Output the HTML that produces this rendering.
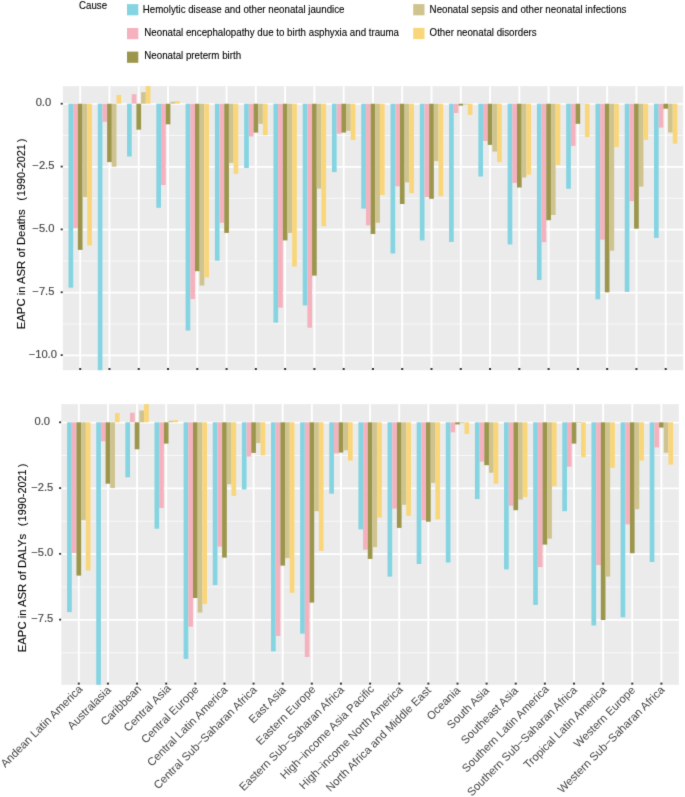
<!DOCTYPE html>
<html><head><meta charset="utf-8"><style>
html,body{margin:0;padding:0;background:#fff;}
svg{display:block;will-change:transform;}

text{font-family:"Liberation Sans",sans-serif;}
.tk{font-size:11.2px;fill:#444;stroke:#444;stroke-width:0.15px;}
.tt{font-size:11.3px;fill:#000;stroke:#000;stroke-width:0.1px;}
.xl{font-size:11.3px;fill:#444;}
.lt{font-size:9.7px;fill:#000;stroke:#000;stroke-width:0.1px;}
.lg{font-size:9.75px;fill:#000;stroke:#000;stroke-width:0.1px;}
</style></head><body>
<svg width="685" height="797" viewBox="0 0 685 797">
<defs><filter id="bl" x="0" y="0" width="685" height="797" filterUnits="userSpaceOnUse" color-interpolation-filters="sRGB"><feConvolveMatrix order="3" kernelMatrix="0.0113 0.0838 0.0113 0.0838 0.619 0.0838 0.0113 0.0838 0.0113" edgeMode="duplicate"/></filter></defs>
<rect width="685" height="797" fill="#fff"/>
<g filter="url(#bl)">
<rect x="62.9" y="86.1" width="620.2" height="284.1" fill="#EBEBEB"/>
<line x1="62.9" x2="683.1" y1="135.43" y2="135.43" stroke="#fff" stroke-width="0.7"/>
<line x1="62.9" x2="683.1" y1="198.28" y2="198.28" stroke="#fff" stroke-width="0.7"/>
<line x1="62.9" x2="683.1" y1="261.12" y2="261.12" stroke="#fff" stroke-width="0.7"/>
<line x1="62.9" x2="683.1" y1="323.98" y2="323.98" stroke="#fff" stroke-width="0.7"/>
<line x1="62.9" x2="683.1" y1="104" y2="104" stroke="#fff" stroke-width="1.7"/>
<line x1="62.9" x2="683.1" y1="166.85" y2="166.85" stroke="#fff" stroke-width="1.7"/>
<line x1="62.9" x2="683.1" y1="229.7" y2="229.7" stroke="#fff" stroke-width="1.7"/>
<line x1="62.9" x2="683.1" y1="292.55" y2="292.55" stroke="#fff" stroke-width="1.7"/>
<line x1="62.9" x2="683.1" y1="355.4" y2="355.4" stroke="#fff" stroke-width="1.7"/>
<line x1="80.2" x2="80.2" y1="86.1" y2="370.2" stroke="#fff" stroke-width="1.9"/>
<line x1="109.47" x2="109.47" y1="86.1" y2="370.2" stroke="#fff" stroke-width="1.9"/>
<line x1="138.75" x2="138.75" y1="86.1" y2="370.2" stroke="#fff" stroke-width="1.9"/>
<line x1="168.02" x2="168.02" y1="86.1" y2="370.2" stroke="#fff" stroke-width="1.9"/>
<line x1="197.3" x2="197.3" y1="86.1" y2="370.2" stroke="#fff" stroke-width="1.9"/>
<line x1="226.57" x2="226.57" y1="86.1" y2="370.2" stroke="#fff" stroke-width="1.9"/>
<line x1="255.85" x2="255.85" y1="86.1" y2="370.2" stroke="#fff" stroke-width="1.9"/>
<line x1="285.12" x2="285.12" y1="86.1" y2="370.2" stroke="#fff" stroke-width="1.9"/>
<line x1="314.4" x2="314.4" y1="86.1" y2="370.2" stroke="#fff" stroke-width="1.9"/>
<line x1="343.67" x2="343.67" y1="86.1" y2="370.2" stroke="#fff" stroke-width="1.9"/>
<line x1="372.95" x2="372.95" y1="86.1" y2="370.2" stroke="#fff" stroke-width="1.9"/>
<line x1="402.22" x2="402.22" y1="86.1" y2="370.2" stroke="#fff" stroke-width="1.9"/>
<line x1="431.5" x2="431.5" y1="86.1" y2="370.2" stroke="#fff" stroke-width="1.9"/>
<line x1="460.77" x2="460.77" y1="86.1" y2="370.2" stroke="#fff" stroke-width="1.9"/>
<line x1="490.05" x2="490.05" y1="86.1" y2="370.2" stroke="#fff" stroke-width="1.9"/>
<line x1="519.33" x2="519.33" y1="86.1" y2="370.2" stroke="#fff" stroke-width="1.9"/>
<line x1="548.6" x2="548.6" y1="86.1" y2="370.2" stroke="#fff" stroke-width="1.9"/>
<line x1="577.88" x2="577.88" y1="86.1" y2="370.2" stroke="#fff" stroke-width="1.9"/>
<line x1="607.15" x2="607.15" y1="86.1" y2="370.2" stroke="#fff" stroke-width="1.9"/>
<line x1="636.43" x2="636.43" y1="86.1" y2="370.2" stroke="#fff" stroke-width="1.9"/>
<line x1="665.7" x2="665.7" y1="86.1" y2="370.2" stroke="#fff" stroke-width="1.9"/>
<rect x="68.5" y="103.7" width="4.68" height="184" fill="#85D4E2"/>
<rect x="73.18" y="103.7" width="4.68" height="124.4" fill="#F5B2BE"/>
<rect x="77.86" y="103.7" width="4.68" height="146.2" fill="#9C964C"/>
<rect x="82.54" y="103.7" width="4.68" height="93.4" fill="#CFC48F"/>
<rect x="87.22" y="103.7" width="4.68" height="141.7" fill="#F9D67A"/>
<rect x="97.77" y="103.7" width="4.68" height="266.5" fill="#85D4E2"/>
<rect x="102.45" y="103.7" width="4.68" height="18.1" fill="#F5B2BE"/>
<rect x="107.13" y="103.7" width="4.68" height="58.4" fill="#9C964C"/>
<rect x="111.81" y="103.7" width="4.68" height="63" fill="#CFC48F"/>
<rect x="116.49" y="94.9" width="4.68" height="8.8" fill="#F9D67A"/>
<rect x="127.05" y="103.7" width="4.68" height="52.8" fill="#85D4E2"/>
<rect x="131.73" y="94.2" width="4.68" height="9.5" fill="#F5B2BE"/>
<rect x="136.41" y="103.7" width="4.68" height="26" fill="#9C964C"/>
<rect x="141.09" y="92.2" width="4.68" height="11.5" fill="#CFC48F"/>
<rect x="145.77" y="86.1" width="4.68" height="17.6" fill="#F9D67A"/>
<rect x="156.32" y="103.7" width="4.68" height="104.1" fill="#85D4E2"/>
<rect x="161" y="103.7" width="4.68" height="81.3" fill="#F5B2BE"/>
<rect x="165.69" y="103.7" width="4.68" height="20.6" fill="#9C964C"/>
<rect x="170.36" y="101.7" width="4.68" height="2" fill="#CFC48F"/>
<rect x="175.04" y="101.1" width="4.68" height="2.6" fill="#F9D67A"/>
<rect x="185.6" y="103.7" width="4.68" height="226.9" fill="#85D4E2"/>
<rect x="190.28" y="103.7" width="4.68" height="195.3" fill="#F5B2BE"/>
<rect x="194.96" y="103.7" width="4.68" height="167.5" fill="#9C964C"/>
<rect x="199.64" y="103.7" width="4.68" height="181.9" fill="#CFC48F"/>
<rect x="204.32" y="103.7" width="4.68" height="173.7" fill="#F9D67A"/>
<rect x="214.88" y="103.7" width="4.68" height="157" fill="#85D4E2"/>
<rect x="219.56" y="103.7" width="4.68" height="119" fill="#F5B2BE"/>
<rect x="224.24" y="103.7" width="4.68" height="129.2" fill="#9C964C"/>
<rect x="228.91" y="103.7" width="4.68" height="59.2" fill="#CFC48F"/>
<rect x="233.59" y="103.7" width="4.68" height="70.2" fill="#F9D67A"/>
<rect x="244.15" y="103.7" width="4.68" height="64.3" fill="#85D4E2"/>
<rect x="248.83" y="103.7" width="4.68" height="32.7" fill="#F5B2BE"/>
<rect x="253.51" y="103.7" width="4.68" height="28.9" fill="#9C964C"/>
<rect x="258.19" y="103.7" width="4.68" height="20.1" fill="#CFC48F"/>
<rect x="262.87" y="103.7" width="4.68" height="31.4" fill="#F9D67A"/>
<rect x="273.43" y="103.7" width="4.68" height="218.9" fill="#85D4E2"/>
<rect x="278.11" y="103.7" width="4.68" height="204" fill="#F5B2BE"/>
<rect x="282.79" y="103.7" width="4.68" height="136.7" fill="#9C964C"/>
<rect x="287.47" y="103.7" width="4.68" height="129.2" fill="#CFC48F"/>
<rect x="292.14" y="103.7" width="4.68" height="162.9" fill="#F9D67A"/>
<rect x="302.7" y="103.7" width="4.68" height="201.7" fill="#85D4E2"/>
<rect x="307.38" y="103.7" width="4.68" height="224" fill="#F5B2BE"/>
<rect x="312.06" y="103.7" width="4.68" height="171.9" fill="#9C964C"/>
<rect x="316.74" y="103.7" width="4.68" height="84.9" fill="#CFC48F"/>
<rect x="321.42" y="103.7" width="4.68" height="122.6" fill="#F9D67A"/>
<rect x="331.97" y="103.7" width="4.68" height="68.4" fill="#85D4E2"/>
<rect x="336.65" y="103.7" width="4.68" height="29.9" fill="#F5B2BE"/>
<rect x="341.33" y="103.7" width="4.68" height="28.9" fill="#9C964C"/>
<rect x="346.01" y="103.7" width="4.68" height="27.1" fill="#CFC48F"/>
<rect x="350.69" y="103.7" width="4.68" height="36.3" fill="#F9D67A"/>
<rect x="361.25" y="103.7" width="4.68" height="104.9" fill="#85D4E2"/>
<rect x="365.93" y="103.7" width="4.68" height="121.6" fill="#F5B2BE"/>
<rect x="370.61" y="103.7" width="4.68" height="130.3" fill="#9C964C"/>
<rect x="375.29" y="103.7" width="4.68" height="119" fill="#CFC48F"/>
<rect x="379.97" y="103.7" width="4.68" height="91.3" fill="#F9D67A"/>
<rect x="390.52" y="103.7" width="4.68" height="149.8" fill="#85D4E2"/>
<rect x="395.2" y="103.7" width="4.68" height="82.6" fill="#F5B2BE"/>
<rect x="399.88" y="103.7" width="4.68" height="100.3" fill="#9C964C"/>
<rect x="404.56" y="103.7" width="4.68" height="78.7" fill="#CFC48F"/>
<rect x="409.25" y="103.7" width="4.68" height="89.5" fill="#F9D67A"/>
<rect x="419.8" y="103.7" width="4.68" height="136.7" fill="#85D4E2"/>
<rect x="424.48" y="103.7" width="4.68" height="93.3" fill="#F5B2BE"/>
<rect x="429.16" y="103.7" width="4.68" height="95.1" fill="#9C964C"/>
<rect x="433.84" y="103.7" width="4.68" height="57.4" fill="#CFC48F"/>
<rect x="438.52" y="103.7" width="4.68" height="92.6" fill="#F9D67A"/>
<rect x="449.07" y="103.7" width="4.68" height="138.2" fill="#85D4E2"/>
<rect x="453.75" y="103.7" width="4.68" height="9.3" fill="#F5B2BE"/>
<rect x="458.44" y="103.7" width="4.68" height="1.9" fill="#9C964C"/>
<rect x="463.12" y="103.7" width="4.68" height="0.9" fill="#CFC48F"/>
<rect x="467.79" y="103.7" width="4.68" height="11.1" fill="#F9D67A"/>
<rect x="478.35" y="103.7" width="4.68" height="72.8" fill="#85D4E2"/>
<rect x="483.03" y="103.7" width="4.68" height="37.3" fill="#F5B2BE"/>
<rect x="487.71" y="103.7" width="4.68" height="41.2" fill="#9C964C"/>
<rect x="492.39" y="103.7" width="4.68" height="47.9" fill="#CFC48F"/>
<rect x="497.07" y="103.7" width="4.68" height="58.4" fill="#F9D67A"/>
<rect x="507.63" y="103.7" width="4.68" height="140.8" fill="#85D4E2"/>
<rect x="512.31" y="103.7" width="4.68" height="79.2" fill="#F5B2BE"/>
<rect x="516.99" y="103.7" width="4.68" height="83.8" fill="#9C964C"/>
<rect x="521.67" y="103.7" width="4.68" height="73.8" fill="#CFC48F"/>
<rect x="526.35" y="103.7" width="4.68" height="71" fill="#F9D67A"/>
<rect x="536.9" y="103.7" width="4.68" height="176.3" fill="#85D4E2"/>
<rect x="541.58" y="103.7" width="4.68" height="138.5" fill="#F5B2BE"/>
<rect x="546.26" y="103.7" width="4.68" height="116.5" fill="#9C964C"/>
<rect x="550.94" y="103.7" width="4.68" height="111.3" fill="#CFC48F"/>
<rect x="555.62" y="103.7" width="4.68" height="61.2" fill="#F9D67A"/>
<rect x="566.17" y="103.7" width="4.68" height="85.1" fill="#85D4E2"/>
<rect x="570.85" y="103.7" width="4.68" height="42.2" fill="#F5B2BE"/>
<rect x="575.53" y="103.7" width="4.68" height="20.1" fill="#9C964C"/>
<rect x="580.21" y="103.7" width="4.68" height="0.6" fill="#CFC48F"/>
<rect x="584.89" y="103.7" width="4.68" height="33.5" fill="#F9D67A"/>
<rect x="595.45" y="103.7" width="4.68" height="195.6" fill="#85D4E2"/>
<rect x="600.13" y="103.7" width="4.68" height="136" fill="#F5B2BE"/>
<rect x="604.81" y="103.7" width="4.68" height="188.6" fill="#9C964C"/>
<rect x="609.49" y="103.7" width="4.68" height="147" fill="#CFC48F"/>
<rect x="614.17" y="103.7" width="4.68" height="43.5" fill="#F9D67A"/>
<rect x="624.73" y="103.7" width="4.68" height="188.2" fill="#85D4E2"/>
<rect x="629.4" y="103.7" width="4.68" height="97.5" fill="#F5B2BE"/>
<rect x="634.09" y="103.7" width="4.68" height="125" fill="#9C964C"/>
<rect x="638.76" y="103.7" width="4.68" height="82.9" fill="#CFC48F"/>
<rect x="643.45" y="103.7" width="4.68" height="36.2" fill="#F9D67A"/>
<rect x="654" y="103.7" width="4.68" height="134.2" fill="#85D4E2"/>
<rect x="658.68" y="103.7" width="4.68" height="23.9" fill="#F5B2BE"/>
<rect x="663.36" y="103.7" width="4.68" height="5" fill="#9C964C"/>
<rect x="668.04" y="103.7" width="4.68" height="28.8" fill="#CFC48F"/>
<rect x="672.72" y="103.7" width="4.68" height="40" fill="#F9D67A"/>
<rect x="60.7" y="102.8" width="2" height="1.8" fill="#333"/>
<text transform="translate(43.4,106.2) scale(1,1.03)" text-anchor="middle" class="tk">0.0</text>
<rect x="60.7" y="165.65" width="2" height="1.8" fill="#333"/>
<text transform="translate(43.4,169.05) scale(1,1.03)" text-anchor="middle" class="tk">−2.5</text>
<rect x="60.7" y="228.5" width="2" height="1.8" fill="#333"/>
<text transform="translate(43.4,231.9) scale(1,1.03)" text-anchor="middle" class="tk">−5.0</text>
<rect x="60.7" y="291.35" width="2" height="1.8" fill="#333"/>
<text transform="translate(43.4,294.75) scale(1,1.03)" text-anchor="middle" class="tk">−7.5</text>
<rect x="60.7" y="354.2" width="2" height="1.8" fill="#333"/>
<text transform="translate(42.8,357.6) scale(1,1.03)" text-anchor="middle" class="tk">−10.0</text>
<rect x="79.2" y="368" width="2" height="2" fill="#333"/>
<rect x="108.47" y="368" width="2" height="2" fill="#333"/>
<rect x="137.75" y="368" width="2" height="2" fill="#333"/>
<rect x="167.02" y="368" width="2" height="2" fill="#333"/>
<rect x="196.3" y="368" width="2" height="2" fill="#333"/>
<rect x="225.57" y="368" width="2" height="2" fill="#333"/>
<rect x="254.85" y="368" width="2" height="2" fill="#333"/>
<rect x="284.12" y="368" width="2" height="2" fill="#333"/>
<rect x="313.4" y="368" width="2" height="2" fill="#333"/>
<rect x="342.67" y="368" width="2" height="2" fill="#333"/>
<rect x="371.95" y="368" width="2" height="2" fill="#333"/>
<rect x="401.22" y="368" width="2" height="2" fill="#333"/>
<rect x="430.5" y="368" width="2" height="2" fill="#333"/>
<rect x="459.77" y="368" width="2" height="2" fill="#333"/>
<rect x="489.05" y="368" width="2" height="2" fill="#333"/>
<rect x="518.33" y="368" width="2" height="2" fill="#333"/>
<rect x="547.6" y="368" width="2" height="2" fill="#333"/>
<rect x="576.88" y="368" width="2" height="2" fill="#333"/>
<rect x="606.15" y="368" width="2" height="2" fill="#333"/>
<rect x="635.43" y="368" width="2" height="2" fill="#333"/>
<rect x="664.7" y="368" width="2" height="2" fill="#333"/>
<rect x="61.3" y="404.1" width="617.6" height="280.7" fill="#EBEBEB"/>
<line x1="61.3" x2="678.9" y1="455.49" y2="455.49" stroke="#fff" stroke-width="0.7"/>
<line x1="61.3" x2="678.9" y1="521.26" y2="521.26" stroke="#fff" stroke-width="0.7"/>
<line x1="61.3" x2="678.9" y1="587.04" y2="587.04" stroke="#fff" stroke-width="0.7"/>
<line x1="61.3" x2="678.9" y1="652.81" y2="652.81" stroke="#fff" stroke-width="0.7"/>
<line x1="61.3" x2="678.9" y1="422.6" y2="422.6" stroke="#fff" stroke-width="1.7"/>
<line x1="61.3" x2="678.9" y1="488.38" y2="488.38" stroke="#fff" stroke-width="1.7"/>
<line x1="61.3" x2="678.9" y1="554.15" y2="554.15" stroke="#fff" stroke-width="1.7"/>
<line x1="61.3" x2="678.9" y1="619.92" y2="619.92" stroke="#fff" stroke-width="1.7"/>
<line x1="78.8" x2="78.8" y1="404.1" y2="684.8" stroke="#fff" stroke-width="1.9"/>
<line x1="107.93" x2="107.93" y1="404.1" y2="684.8" stroke="#fff" stroke-width="1.9"/>
<line x1="137.06" x2="137.06" y1="404.1" y2="684.8" stroke="#fff" stroke-width="1.9"/>
<line x1="166.19" x2="166.19" y1="404.1" y2="684.8" stroke="#fff" stroke-width="1.9"/>
<line x1="195.32" x2="195.32" y1="404.1" y2="684.8" stroke="#fff" stroke-width="1.9"/>
<line x1="224.45" x2="224.45" y1="404.1" y2="684.8" stroke="#fff" stroke-width="1.9"/>
<line x1="253.58" x2="253.58" y1="404.1" y2="684.8" stroke="#fff" stroke-width="1.9"/>
<line x1="282.71" x2="282.71" y1="404.1" y2="684.8" stroke="#fff" stroke-width="1.9"/>
<line x1="311.84" x2="311.84" y1="404.1" y2="684.8" stroke="#fff" stroke-width="1.9"/>
<line x1="340.97" x2="340.97" y1="404.1" y2="684.8" stroke="#fff" stroke-width="1.9"/>
<line x1="370.1" x2="370.1" y1="404.1" y2="684.8" stroke="#fff" stroke-width="1.9"/>
<line x1="399.23" x2="399.23" y1="404.1" y2="684.8" stroke="#fff" stroke-width="1.9"/>
<line x1="428.36" x2="428.36" y1="404.1" y2="684.8" stroke="#fff" stroke-width="1.9"/>
<line x1="457.49" x2="457.49" y1="404.1" y2="684.8" stroke="#fff" stroke-width="1.9"/>
<line x1="486.62" x2="486.62" y1="404.1" y2="684.8" stroke="#fff" stroke-width="1.9"/>
<line x1="515.75" x2="515.75" y1="404.1" y2="684.8" stroke="#fff" stroke-width="1.9"/>
<line x1="544.88" x2="544.88" y1="404.1" y2="684.8" stroke="#fff" stroke-width="1.9"/>
<line x1="574.01" x2="574.01" y1="404.1" y2="684.8" stroke="#fff" stroke-width="1.9"/>
<line x1="603.14" x2="603.14" y1="404.1" y2="684.8" stroke="#fff" stroke-width="1.9"/>
<line x1="632.27" x2="632.27" y1="404.1" y2="684.8" stroke="#fff" stroke-width="1.9"/>
<line x1="661.4" x2="661.4" y1="404.1" y2="684.8" stroke="#fff" stroke-width="1.9"/>
<rect x="67.1" y="422.3" width="4.68" height="189.8" fill="#85D4E2"/>
<rect x="71.78" y="422.3" width="4.68" height="130.7" fill="#F5B2BE"/>
<rect x="76.46" y="422.3" width="4.68" height="153.3" fill="#9C964C"/>
<rect x="81.14" y="422.3" width="4.68" height="97.9" fill="#CFC48F"/>
<rect x="85.82" y="422.3" width="4.68" height="148.2" fill="#F9D67A"/>
<rect x="96.23" y="422.3" width="4.68" height="262.5" fill="#85D4E2"/>
<rect x="100.91" y="422.3" width="4.68" height="19" fill="#F5B2BE"/>
<rect x="105.59" y="422.3" width="4.68" height="61.4" fill="#9C964C"/>
<rect x="110.27" y="422.3" width="4.68" height="65.8" fill="#CFC48F"/>
<rect x="114.95" y="413" width="4.68" height="9.3" fill="#F9D67A"/>
<rect x="125.36" y="422.3" width="4.68" height="55" fill="#85D4E2"/>
<rect x="130.04" y="412.8" width="4.68" height="9.5" fill="#F5B2BE"/>
<rect x="134.72" y="422.3" width="4.68" height="27" fill="#9C964C"/>
<rect x="139.4" y="410.5" width="4.68" height="11.8" fill="#CFC48F"/>
<rect x="144.08" y="404.1" width="4.68" height="18.2" fill="#F9D67A"/>
<rect x="154.49" y="422.3" width="4.68" height="106.4" fill="#85D4E2"/>
<rect x="159.17" y="422.3" width="4.68" height="85.7" fill="#F5B2BE"/>
<rect x="163.85" y="422.3" width="4.68" height="21.3" fill="#9C964C"/>
<rect x="168.53" y="420.8" width="4.68" height="1.5" fill="#CFC48F"/>
<rect x="173.21" y="420" width="4.68" height="2.3" fill="#F9D67A"/>
<rect x="183.62" y="422.3" width="4.68" height="236.6" fill="#85D4E2"/>
<rect x="188.3" y="422.3" width="4.68" height="204.4" fill="#F5B2BE"/>
<rect x="192.98" y="422.3" width="4.68" height="175.7" fill="#9C964C"/>
<rect x="197.66" y="422.3" width="4.68" height="190.3" fill="#CFC48F"/>
<rect x="202.34" y="422.3" width="4.68" height="181.8" fill="#F9D67A"/>
<rect x="212.75" y="422.3" width="4.68" height="162.8" fill="#85D4E2"/>
<rect x="217.43" y="422.3" width="4.68" height="124.3" fill="#F5B2BE"/>
<rect x="222.11" y="422.3" width="4.68" height="135.3" fill="#9C964C"/>
<rect x="226.79" y="422.3" width="4.68" height="61.9" fill="#CFC48F"/>
<rect x="231.47" y="422.3" width="4.68" height="73.7" fill="#F9D67A"/>
<rect x="241.88" y="422.3" width="4.68" height="67.1" fill="#85D4E2"/>
<rect x="246.56" y="422.3" width="4.68" height="34.2" fill="#F5B2BE"/>
<rect x="251.24" y="422.3" width="4.68" height="30.6" fill="#9C964C"/>
<rect x="255.92" y="422.3" width="4.68" height="20.8" fill="#CFC48F"/>
<rect x="260.6" y="422.3" width="4.68" height="33.1" fill="#F9D67A"/>
<rect x="271.01" y="422.3" width="4.68" height="229.1" fill="#85D4E2"/>
<rect x="275.69" y="422.3" width="4.68" height="213.7" fill="#F5B2BE"/>
<rect x="280.37" y="422.3" width="4.68" height="143.3" fill="#9C964C"/>
<rect x="285.05" y="422.3" width="4.68" height="135.8" fill="#CFC48F"/>
<rect x="289.73" y="422.3" width="4.68" height="170.5" fill="#F9D67A"/>
<rect x="300.14" y="422.3" width="4.68" height="211.4" fill="#85D4E2"/>
<rect x="304.82" y="422.3" width="4.68" height="234.7" fill="#F5B2BE"/>
<rect x="309.5" y="422.3" width="4.68" height="180.3" fill="#9C964C"/>
<rect x="314.18" y="422.3" width="4.68" height="88.9" fill="#CFC48F"/>
<rect x="318.86" y="422.3" width="4.68" height="128.6" fill="#F9D67A"/>
<rect x="329.27" y="422.3" width="4.68" height="71.4" fill="#85D4E2"/>
<rect x="333.95" y="422.3" width="4.68" height="31.1" fill="#F5B2BE"/>
<rect x="338.63" y="422.3" width="4.68" height="30.3" fill="#9C964C"/>
<rect x="343.31" y="422.3" width="4.68" height="28" fill="#CFC48F"/>
<rect x="347.99" y="422.3" width="4.68" height="38.3" fill="#F9D67A"/>
<rect x="358.4" y="422.3" width="4.68" height="107.1" fill="#85D4E2"/>
<rect x="363.08" y="422.3" width="4.68" height="127.4" fill="#F5B2BE"/>
<rect x="367.76" y="422.3" width="4.68" height="136.6" fill="#9C964C"/>
<rect x="372.44" y="422.3" width="4.68" height="124.8" fill="#CFC48F"/>
<rect x="377.12" y="422.3" width="4.68" height="95.3" fill="#F9D67A"/>
<rect x="387.53" y="422.3" width="4.68" height="154.3" fill="#85D4E2"/>
<rect x="392.21" y="422.3" width="4.68" height="86.3" fill="#F5B2BE"/>
<rect x="396.89" y="422.3" width="4.68" height="105.6" fill="#9C964C"/>
<rect x="401.57" y="422.3" width="4.68" height="82.5" fill="#CFC48F"/>
<rect x="406.25" y="422.3" width="4.68" height="93.5" fill="#F9D67A"/>
<rect x="416.66" y="422.3" width="4.68" height="141.7" fill="#85D4E2"/>
<rect x="421.34" y="422.3" width="4.68" height="97.9" fill="#F5B2BE"/>
<rect x="426.02" y="422.3" width="4.68" height="99.4" fill="#9C964C"/>
<rect x="430.7" y="422.3" width="4.68" height="60.6" fill="#CFC48F"/>
<rect x="435.38" y="422.3" width="4.68" height="97.1" fill="#F9D67A"/>
<rect x="445.79" y="422.3" width="4.68" height="140.2" fill="#85D4E2"/>
<rect x="450.47" y="422.3" width="4.68" height="10" fill="#F5B2BE"/>
<rect x="455.15" y="422.3" width="4.68" height="2.1" fill="#9C964C"/>
<rect x="459.83" y="422.3" width="4.68" height="1" fill="#CFC48F"/>
<rect x="464.51" y="422.3" width="4.68" height="11.6" fill="#F9D67A"/>
<rect x="474.92" y="422.3" width="4.68" height="76.8" fill="#85D4E2"/>
<rect x="479.6" y="422.3" width="4.68" height="39.3" fill="#F5B2BE"/>
<rect x="484.28" y="422.3" width="4.68" height="42.9" fill="#9C964C"/>
<rect x="488.96" y="422.3" width="4.68" height="50.4" fill="#CFC48F"/>
<rect x="493.64" y="422.3" width="4.68" height="61.4" fill="#F9D67A"/>
<rect x="504.05" y="422.3" width="4.68" height="147.1" fill="#85D4E2"/>
<rect x="508.73" y="422.3" width="4.68" height="83.5" fill="#F5B2BE"/>
<rect x="513.41" y="422.3" width="4.68" height="87.9" fill="#9C964C"/>
<rect x="518.09" y="422.3" width="4.68" height="77.3" fill="#CFC48F"/>
<rect x="522.77" y="422.3" width="4.68" height="74.8" fill="#F9D67A"/>
<rect x="533.18" y="422.3" width="4.68" height="182.6" fill="#85D4E2"/>
<rect x="537.86" y="422.3" width="4.68" height="144.8" fill="#F5B2BE"/>
<rect x="542.54" y="422.3" width="4.68" height="122.3" fill="#9C964C"/>
<rect x="547.22" y="422.3" width="4.68" height="116.4" fill="#CFC48F"/>
<rect x="551.9" y="422.3" width="4.68" height="64" fill="#F9D67A"/>
<rect x="562.31" y="422.3" width="4.68" height="88.9" fill="#85D4E2"/>
<rect x="566.99" y="422.3" width="4.68" height="44.4" fill="#F5B2BE"/>
<rect x="571.67" y="422.3" width="4.68" height="21.3" fill="#9C964C"/>
<rect x="576.35" y="422.3" width="4.68" height="0.7" fill="#CFC48F"/>
<rect x="581.03" y="422.3" width="4.68" height="34.9" fill="#F9D67A"/>
<rect x="591.44" y="422.3" width="4.68" height="203.2" fill="#85D4E2"/>
<rect x="596.12" y="422.3" width="4.68" height="142.8" fill="#F5B2BE"/>
<rect x="600.8" y="422.3" width="4.68" height="197.7" fill="#9C964C"/>
<rect x="605.48" y="422.3" width="4.68" height="154.3" fill="#CFC48F"/>
<rect x="610.16" y="422.3" width="4.68" height="45.6" fill="#F9D67A"/>
<rect x="620.57" y="422.3" width="4.68" height="195" fill="#85D4E2"/>
<rect x="625.25" y="422.3" width="4.68" height="102.1" fill="#F5B2BE"/>
<rect x="629.93" y="422.3" width="4.68" height="130.9" fill="#9C964C"/>
<rect x="634.61" y="422.3" width="4.68" height="86.9" fill="#CFC48F"/>
<rect x="639.29" y="422.3" width="4.68" height="38.3" fill="#F9D67A"/>
<rect x="649.7" y="422.3" width="4.68" height="139.7" fill="#85D4E2"/>
<rect x="654.38" y="422.3" width="4.68" height="25.1" fill="#F5B2BE"/>
<rect x="659.06" y="422.3" width="4.68" height="5.3" fill="#9C964C"/>
<rect x="663.74" y="422.3" width="4.68" height="30.4" fill="#CFC48F"/>
<rect x="668.42" y="422.3" width="4.68" height="42.3" fill="#F9D67A"/>
<rect x="59.1" y="421.4" width="2" height="1.8" fill="#333"/>
<text transform="translate(42.3,424.8) scale(1,1.03)" text-anchor="middle" class="tk">0.0</text>
<rect x="59.1" y="487.18" width="2" height="1.8" fill="#333"/>
<text transform="translate(42.3,490.57) scale(1,1.03)" text-anchor="middle" class="tk">−2.5</text>
<rect x="59.1" y="552.95" width="2" height="1.8" fill="#333"/>
<text transform="translate(42.3,556.35) scale(1,1.03)" text-anchor="middle" class="tk">−5.0</text>
<rect x="59.1" y="618.73" width="2" height="1.8" fill="#333"/>
<text transform="translate(42.3,622.12) scale(1,1.03)" text-anchor="middle" class="tk">−7.5</text>
<rect x="77.8" y="682.6" width="2" height="2" fill="#333"/>
<rect x="106.93" y="682.6" width="2" height="2" fill="#333"/>
<rect x="136.06" y="682.6" width="2" height="2" fill="#333"/>
<rect x="165.19" y="682.6" width="2" height="2" fill="#333"/>
<rect x="194.32" y="682.6" width="2" height="2" fill="#333"/>
<rect x="223.45" y="682.6" width="2" height="2" fill="#333"/>
<rect x="252.58" y="682.6" width="2" height="2" fill="#333"/>
<rect x="281.71" y="682.6" width="2" height="2" fill="#333"/>
<rect x="310.84" y="682.6" width="2" height="2" fill="#333"/>
<rect x="339.97" y="682.6" width="2" height="2" fill="#333"/>
<rect x="369.1" y="682.6" width="2" height="2" fill="#333"/>
<rect x="398.23" y="682.6" width="2" height="2" fill="#333"/>
<rect x="427.36" y="682.6" width="2" height="2" fill="#333"/>
<rect x="456.49" y="682.6" width="2" height="2" fill="#333"/>
<rect x="485.62" y="682.6" width="2" height="2" fill="#333"/>
<rect x="514.75" y="682.6" width="2" height="2" fill="#333"/>
<rect x="543.88" y="682.6" width="2" height="2" fill="#333"/>
<rect x="573.01" y="682.6" width="2" height="2" fill="#333"/>
<rect x="602.14" y="682.6" width="2" height="2" fill="#333"/>
<rect x="631.27" y="682.6" width="2" height="2" fill="#333"/>
<rect x="660.4" y="682.6" width="2" height="2" fill="#333"/>
<text transform="translate(25.2,329.2) rotate(-90)" class="tt">EAPC in ASR of Deaths</text>
<text transform="translate(25.2,200.75) rotate(-90)" class="tt">(</text>
<text transform="translate(25.2,196.15) rotate(-90)" class="tt" style="font-size:10.9px">1990-2021</text>
<text transform="translate(25.2,142.35) rotate(-90)" class="tt">)</text>
<text transform="translate(25.8,652.2) rotate(-90)" class="tt">EAPC in ASR of DALYs</text>
<text transform="translate(25.8,526.2) rotate(-90)" class="tt">(</text>
<text transform="translate(25.8,521.4) rotate(-90)" class="tt" style="font-size:10.9px">1990-2021</text>
<text transform="translate(25.8,467.35) rotate(-90)" class="tt">)</text>
<text transform="translate(77.85,684.45) rotate(-45)" text-anchor="end" class="xl" dy="7.7">Andean Latin America</text>
<text transform="translate(106.13,685.3) rotate(-45)" text-anchor="end" class="xl" dy="7.7">Australasia</text>
<text transform="translate(136.56,684) rotate(-45)" text-anchor="end" class="xl" dy="7.7">Caribbean</text>
<text transform="translate(165.99,683.7) rotate(-45)" text-anchor="end" class="xl" dy="7.7">Central Asia</text>
<text transform="translate(193.92,684.9) rotate(-45)" text-anchor="end" class="xl" dy="7.7">Central Europe</text>
<text transform="translate(222.75,685.2) rotate(-45)" text-anchor="end" class="xl" dy="7.7">Central Latin America</text>
<text transform="translate(251.98,685.1) rotate(-45)" text-anchor="end" class="xl" dy="7.7">Central Sub−Saharan Africa</text>
<text transform="translate(281.06,685.15) rotate(-45)" text-anchor="end" class="xl" dy="7.7">East Asia</text>
<text transform="translate(310.64,684.7) rotate(-45)" text-anchor="end" class="xl" dy="7.7">Eastern Europe</text>
<text transform="translate(339.32,685.15) rotate(-45)" text-anchor="end" class="xl" dy="7.7">Eastern Sub−Saharan Africa</text>
<text transform="translate(369.2,684.4) rotate(-45)" text-anchor="end" class="xl" dy="7.7">High−income Asia Pacific</text>
<text transform="translate(397.98,684.75) rotate(-45)" text-anchor="end" class="xl" dy="7.7">High−income North America</text>
<text transform="translate(426.21,685.65) rotate(-45)" text-anchor="end" class="xl" dy="7.7">North Africa and Middle East</text>
<text transform="translate(455.44,685.55) rotate(-45)" text-anchor="end" class="xl" dy="7.7">Oceania</text>
<text transform="translate(484.37,685.75) rotate(-45)" text-anchor="end" class="xl" dy="7.7">South Asia</text>
<text transform="translate(513.35,685.9) rotate(-45)" text-anchor="end" class="xl" dy="7.7">Southeast Asia</text>
<text transform="translate(543.98,684.4) rotate(-45)" text-anchor="end" class="xl" dy="7.7">Southern Latin America</text>
<text transform="translate(572.21,685.3) rotate(-45)" text-anchor="end" class="xl" dy="7.7">Southern Sub−Saharan Africa</text>
<text transform="translate(601.49,685.15) rotate(-45)" text-anchor="end" class="xl" dy="7.7">Tropical Latin America</text>
<text transform="translate(630.47,685.3) rotate(-45)" text-anchor="end" class="xl" dy="7.7">Western Europe</text>
<text transform="translate(659.8,685.1) rotate(-45)" text-anchor="end" class="xl" dy="7.7">Western Sub−Saharan Africa</text>
<text transform="translate(79.1,8.9) scale(1,1.08)" class="lt">Cause</text>
<rect x="127.0" y="4.1" width="11.3" height="11.2" fill="#85D4E2"/>
<text transform="translate(142.8,12.75) scale(1,1.08)" class="lg">Hemolytic disease and other neonatal jaundice</text>
<rect x="127.0" y="28.0" width="11.3" height="11.2" fill="#F5B2BE"/>
<text transform="translate(144.3,36) scale(1,1.08)" class="lg">Neonatal encephalopathy due to birth asphyxia and trauma</text>
<rect x="127.0" y="51.6" width="11.3" height="11.2" fill="#9C964C"/>
<text transform="translate(144.3,59.3) scale(1,1.08)" class="lg">Neonatal preterm birth</text>
<rect x="413.2" y="4.1" width="11.3" height="11.2" fill="#CFC48F"/>
<text transform="translate(429.6,12.7) scale(1,1.08)" class="lg">Neonatal sepsis and other neonatal infections</text>
<rect x="413.2" y="27.9" width="11.3" height="11.2" fill="#F9D67A"/>
<text transform="translate(429.6,36.4) scale(1,1.08)" class="lg">Other neonatal disorders</text>
</g>
</svg>
</body></html>
